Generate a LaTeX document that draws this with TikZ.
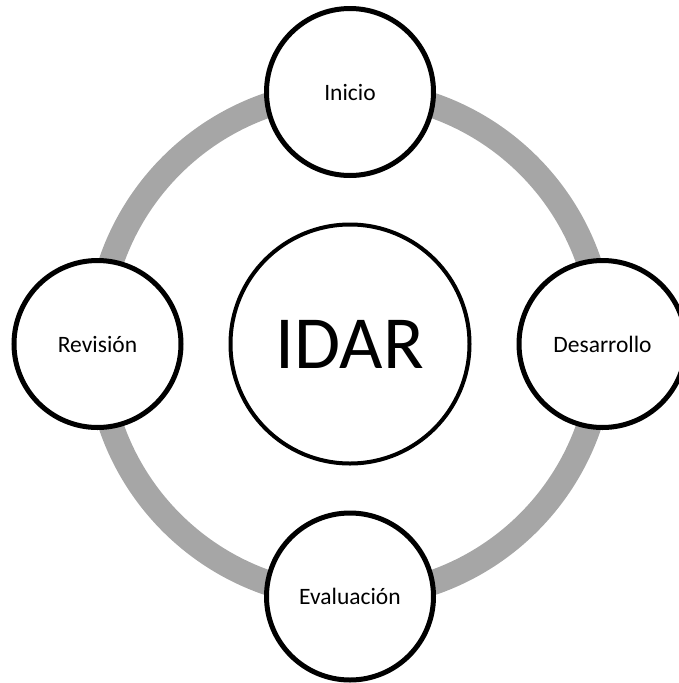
\documentclass[tikz,border=0pt]{standalone}
\usepackage{fontspec}
\setmainfont{Carlito}
\definecolor{ringgray}{HTML}{A6A6A6}
\tikzset{
  stage/.style={circle, draw=black, line width=5pt, fill=white, inner sep=0pt,
    minimum size=167pt, font=\fontsize{23.5}{28}\selectfont},
  hub/.style={circle, draw=black, line width=4pt, fill=white, inner sep=0pt,
    minimum size=239pt, font=\fontsize{75}{90}\selectfont},
  ring/.style={draw=ringgray, line width=25pt}
}
\begin{document}
\begin{tikzpicture}[x=1pt,y=-1pt]
  \useasboundingbox (0,0) rectangle (679,683);
  \coordinate (c) at (350,344);
  % grey cycle behind the stages
  \draw[ring] (c) circle (252.5);
  % hub and the four stages
  \node[hub] (idar) at (c) {IDAR};
  \node[stage] (inicio) at (350,92) {Inicio};
  \node[stage] (desarrollo) at (602.5,344) {Desarrollo};
  \node[stage] (evaluacion) at (350,596.5) {Evaluación};
  \node[stage] (revision) at (97.5,344) {Revisión};
\end{tikzpicture}
\end{document}
